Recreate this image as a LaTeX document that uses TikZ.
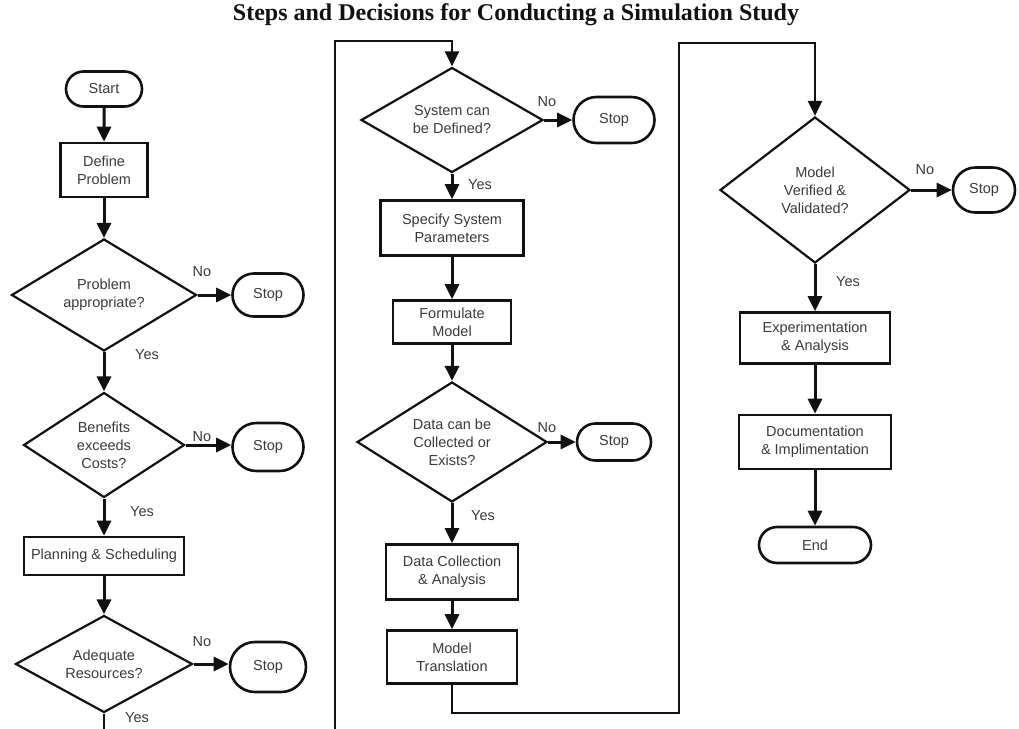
\documentclass[tikz,border=0pt]{standalone}
\usepackage{fontspec}
\setmainfont{Liberation Sans}
\newfontfamily\headfont{Liberation Serif}
\usetikzlibrary{arrows.meta,shapes.geometric,shapes.misc}
\definecolor{ink}{HTML}{111111}
\definecolor{inksoft}{HTML}{3A3A3A}

\begin{document}
\begin{tikzpicture}[x=1pt, y=-1pt,
  font=\fontsize{14.5}{18}\selectfont,
  >={Triangle[length=15pt,width=14pt]},
  terminal/.style={draw=ink, line width=2.6pt, rounded rectangle, text=inksoft, inner sep=2pt},
  process/.style={draw=ink, line width=2.6pt, text=inksoft, align=center, inner sep=2pt},
  decision/.style={draw=ink, line width=2.2pt, diamond, aspect=2, text=inksoft,
    align=center, inner sep=0pt},
  flow/.style={->, draw=ink, line width=3pt},
  loopline/.style={->, draw=ink, line width=2.6pt},
  answer/.style={text=inksoft, inner sep=1pt}
]
\useasboundingbox (0,0) rectangle (1019,728);

\node[font=\headfont\bfseries\fontsize{24}{28}\selectfont, text=ink] (title) at (516,15)
  {Steps and Decisions for Conducting a Simulation Study};

% first column
\node[terminal, minimum width=80pt, minimum height=35pt] (start) at (104,89) {Start};
\node[process, minimum width=87pt, minimum height=54pt] (define) at (104,170) {Define\\Problem};
\node[decision, minimum width=185pt, minimum height=112pt] (q1) at (104,295) {Problem\\appropriate?};
\node[terminal, minimum width=75pt, minimum height=43pt] (stop1) at (268,295) {Stop};
\node[decision, minimum width=161pt, minimum height=105pt] (q2) at (104,445) {Benefits\\exceeds\\Costs?};
\node[terminal, minimum width=75pt, minimum height=48pt] (stop2) at (268,447) {Stop};
\node[process, minimum width=160pt, minimum height=38pt] (plan) at (104,556) {Planning \& Scheduling};
\node[decision, minimum width=177pt, minimum height=97pt] (q3) at (104,664) {Adequate\\Resources?};
\node[terminal, minimum width=80pt, minimum height=50pt] (stop3) at (268,667) {Stop};

\draw[flow] (start) -- (define);
\draw[flow] (define) -- (q1);
\draw[flow] (q1.east) -- (stop1);
\draw[flow] (q1) -- (q2);
\draw[flow] (q2.east) -- (stop2.west|-q2.east);
\draw[flow] (q2) -- (plan);
\draw[flow] (plan) -- (q3);
\draw[flow] (q3.east) -- (stop3.west|-q3.east);

\node[answer] (no1) at (202,272) {No};
\node[answer] (yes1) at (147,355) {Yes};
\node[answer] (no2) at (202,437) {No};
\node[answer] (yes2) at (142,512) {Yes};
\node[answer] (no3) at (202,642) {No};
\node[answer] (yes3) at (137,718) {Yes};

% second column
\node[decision, minimum width=182pt, minimum height=105pt] (q4) at (452,120) {System can\\be Defined?};
\node[terminal, minimum width=85pt, minimum height=46pt] (stop4) at (614,120) {Stop};
\node[process, minimum width=143pt, minimum height=55pt] (spec) at (452,228) {Specify System\\Parameters};
\node[process, minimum width=118pt, minimum height=43pt] (form) at (452,322) {Formulate\\Model};
\node[decision, minimum width=190pt, minimum height=120pt] (q5) at (452,442) {Data can be\\Collected or\\Exists?};
\node[terminal, minimum width=78pt, minimum height=37pt] (stop5) at (614,442) {Stop};
\node[process, minimum width=132pt, minimum height=55pt] (collect) at (452,572) {Data Collection\\\& Analysis};
\node[process, minimum width=130pt, minimum height=53pt] (trans) at (452,657) {Model\\Translation};

\draw[flow] (q4.east) -- (stop4);
\draw[flow] (q4) -- (spec);
\draw[flow] (spec) -- (form);
\draw[flow] (form) -- (q5);
\draw[flow] (q5.east) -- (stop5);
\draw[flow] (q5) -- (collect);
\draw[flow] (collect) -- (trans);

\node[answer] (no4) at (547,102) {No};
\node[answer] (yes4) at (480,185) {Yes};
\node[answer] (no5) at (547,428) {No};
\node[answer] (yes5) at (483,516) {Yes};

% third column
\node[decision, minimum width=190pt, minimum height=146pt] (q6) at (815,190) {Model\\Verified \&\\Validated?};
\node[terminal, minimum width=66pt, minimum height=45pt] (stop6) at (984,190) {Stop};
\node[process, minimum width=150pt, minimum height=51pt] (exper) at (815,338) {Experimentation\\\& Analysis};
\node[process, minimum width=152pt, minimum height=54pt] (doc) at (815,442) {Documentation\\\& Implimentation};
\node[terminal, minimum width=116pt, minimum height=36pt] (finish) at (815,545) {End};

\draw[flow] (q6.east) -- (stop6);
\draw[flow] (q6) -- (exper);
\draw[flow] (exper) -- (doc);
\draw[flow] (doc) -- (finish);

\node[answer] (no6) at (925,170) {No};
\node[answer] (yes6) at (848,282) {Yes};

% links between the columns
\coordinate (low1) at (335,760);
\coordinate (top1) at (335,41);
\coordinate (low2) at (679,713);
\coordinate (top2) at (679,43);
\draw[loopline] (q3.south) |- (low1) -- (top1) -| (q4.north);
\draw[loopline] (trans.south) |- (low2) -- (top2) -| (q6.north);
\end{tikzpicture}
\end{document}
